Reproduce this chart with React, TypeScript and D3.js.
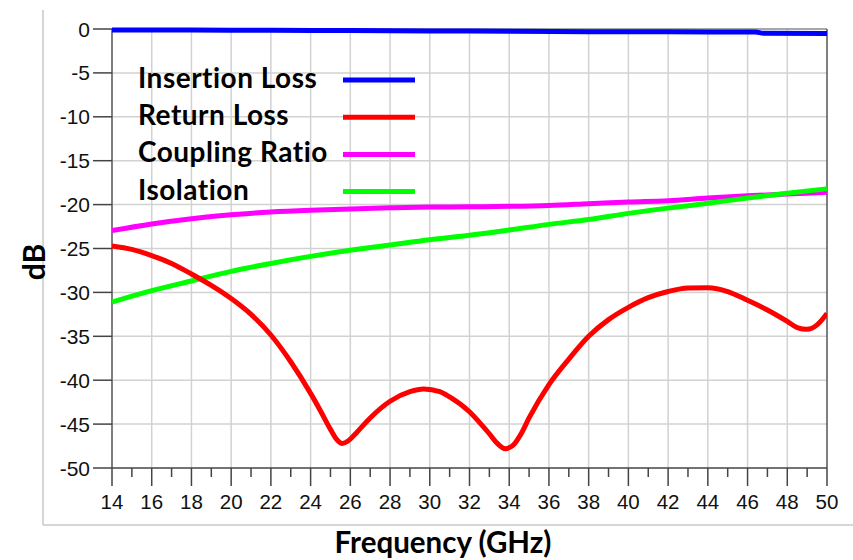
import React from "react";
import * as d3 from "d3";

// ---- Data ----
const freqInsertion = [14, 18, 22, 26, 30, 34, 38, 42, 46.4, 46.8, 50];
const insertionLoss = [-0.1, -0.12, -0.15, -0.18, -0.22, -0.26, -0.3, -0.32, -0.35, -0.48, -0.5];

const freqReturn = [14, 15, 16, 17, 18, 19, 20, 21, 22, 23, 24, 24.5, 25, 25.3, 25.6, 25.9, 26.3, 27, 28, 29, 29.7, 30.5, 31, 32, 32.5, 33, 33.4, 33.8, 34.2, 34.6, 35, 36, 37, 38, 39, 40, 41, 42, 43, 44, 45, 46, 47, 48, 48.5, 49, 49.5, 50];
const returnLoss = [-24.7, -25.1, -25.8, -26.7, -27.9, -29.2, -30.7, -32.5, -34.85, -37.9, -41.5, -43.5, -45.6, -46.7, -47.2, -46.9, -46.0, -44.3, -42.4, -41.3, -41.0, -41.3, -41.9, -43.6, -44.8, -46.1, -47.2, -47.8, -47.4, -46.1, -44.3, -40.5, -37.6, -35.0, -33.1, -31.7, -30.6, -29.9, -29.5, -29.47, -29.9, -30.9, -32.0, -33.3, -34.0, -34.2, -33.7, -32.4];

const freqStd = [14, 16, 18, 20, 22, 24, 26, 28, 30, 32, 34, 36, 38, 40, 42, 44, 46, 48, 50];
const couplingRatio = [-22.95, -22.2, -21.6, -21.15, -20.85, -20.65, -20.5, -20.37, -20.28, -20.25, -20.2, -20.1, -19.9, -19.7, -19.55, -19.25, -19.0, -18.8, -18.6];
const isolation = [-31.1, -29.8, -28.7, -27.6, -26.7, -25.9, -25.2, -24.6, -24.0, -23.5, -22.9, -22.25, -21.7, -21.0, -20.4, -19.85, -19.25, -18.7, -18.2];

const legendLabels = ["Insertion Loss", "Return Loss", "Coupling Ratio", "Isolation"];
const seriesColors = ["#0000ff", "#ff0000", "#ff00ff", "#00ff00"];

const xMajorTicks = d3.range(14, 51, 2);
const xMinorTicks = d3.range(15, 50, 2);
const yTicks = d3.range(-50, 1, 5);

const xTitle = "Frequency (GHz)";
const yTitle = "dB";

export default function App() {
  const W = 853, H = 560;
  const left = 112, right = 827, top = 29, bottom = 468;
  const x = d3.scaleLinear().domain([14, 50]).range([left, right]);
  const y = d3.scaleLinear().domain([-50, 0]).range([bottom, top]);

  const line = d3
    .line<[number, number]>()
    .x((d) => x(d[0]))
    .y((d) => y(d[1]))
    .curve(d3.curveMonotoneX);

  const series = [
    { f: freqInsertion, v: insertionLoss },
    { f: freqReturn, v: returnLoss },
    { f: freqStd, v: couplingRatio },
    { f: freqStd, v: isolation },
  ];

  const tickFont = "'Liberation Sans', Arial, sans-serif";
  const boldFont = "Lato, 'Open Sans', sans-serif";

  return (
    <svg
      width={W}
      height={H}
      viewBox={`0 0 ${W} ${H}`}
      style={{ position: "absolute", left: 0, top: 0, background: "#fff" }}
    >
      <defs>
        <clipPath id="plotClip">
          <rect x={left} y={top - 6} width={right - left} height={bottom - top + 6} />
        </clipPath>
      </defs>
      {/* outer frame */}
      <line x1={43} y1={10} x2={43} y2={525} stroke="#c8c8c8" strokeWidth={1.5} />
      <line x1={43} y1={525} x2={853} y2={525} stroke="#c8c8c8" strokeWidth={1.5} />

      {/* grid */}
      {xMajorTicks.filter((t) => t > 14 && t < 50).map((t) => (
        <line key={"gx" + t} x1={x(t)} x2={x(t)} y1={top} y2={bottom} stroke="#d2d2d2" strokeWidth={1.5} />
      ))}
      {yTicks.filter((t) => t > -50 && t < 0).map((t) => (
        <line key={"gy" + t} x1={left} x2={right} y1={y(t)} y2={y(t)} stroke="#d2d2d2" strokeWidth={1.5} />
      ))}

      {/* borders */}
      <line x1={left} x2={right} y1={top} y2={top} stroke="#8a8a8a" strokeWidth={1.5} />
      <line x1={right} x2={right} y1={top} y2={bottom} stroke="#555" strokeWidth={1.5} />
      <line x1={left} x2={left} y1={top} y2={bottom} stroke="#555" strokeWidth={1.5} />
      <line x1={left} x2={right} y1={bottom} y2={bottom} stroke="#444" strokeWidth={1.5} />

      {/* y ticks */}
      {yTicks.map((t) => (
        <g key={"yt" + t}>
          <line x1={left - 19} x2={left} y1={y(t)} y2={y(t)} stroke="#444" strokeWidth={1.5} />
          <text
            x={left - 22}
            y={y(t)}
            dy="0.36em"
            textAnchor="end"
            fontFamily={tickFont}
            fontSize={21}
            fill="#111"
          >
            {t}
          </text>
        </g>
      ))}

      {/* x ticks */}
      {xMajorTicks.map((t) => (
        <g key={"xt" + t}>
          <line x1={x(t)} x2={x(t)} y1={bottom} y2={bottom + 18} stroke="#444" strokeWidth={1.5} />
          <text
            x={x(t)}
            y={bottom + 41}
            textAnchor="middle"
            fontFamily={tickFont}
            fontSize={20.5}
            fill="#111"
          >
            {t}
          </text>
        </g>
      ))}
      {xMinorTicks.map((t) => (
        <line key={"xm" + t} x1={x(t)} x2={x(t)} y1={bottom} y2={bottom + 9} stroke="#444" strokeWidth={1.5} />
      ))}

      {/* series */}
      <g clipPath="url(#plotClip)">
        {[2, 3, 1, 0].map((i) => {
          const s = series[i];
          const pts: [number, number][] = s.f.map((f, k) => [f, s.v[k]]);
          return (
            <path
              key={"s" + i}
              d={line(pts) || ""}
              fill="none"
              stroke={seriesColors[i]}
              strokeWidth={5}
              strokeLinejoin="round"
            />
          );
        })}
      </g>

      {/* legend */}
      {legendLabels.map((lab, i) => {
        const base = 88 + i * 37.2;
        return (
          <g key={"lg" + i}>
            <text
              x={138}
              y={base}
              fontFamily={boldFont}
              fontWeight={700}
              fontSize={28}
              letterSpacing={0.5}
              fill="#000"
            >
              {lab}
            </text>
            <line x1={343} x2={415} y1={base - 8} y2={base - 8} stroke={seriesColors[i]} strokeWidth={5} />
          </g>
        );
      })}

      {/* axis titles */}
      <text
        x={443}
        y={553}
        textAnchor="middle"
        fontFamily={boldFont}
        fontWeight={700}
        fontSize={29.5}
        fill="#000"
      >
        {xTitle}
      </text>
      <text
        transform={`translate(45,262) rotate(-90)`}
        textAnchor="middle"
        fontFamily={boldFont}
        fontWeight={700}
        fontSize={30}
        fill="#000"
      >
        {yTitle}
      </text>
    </svg>
  );
}
